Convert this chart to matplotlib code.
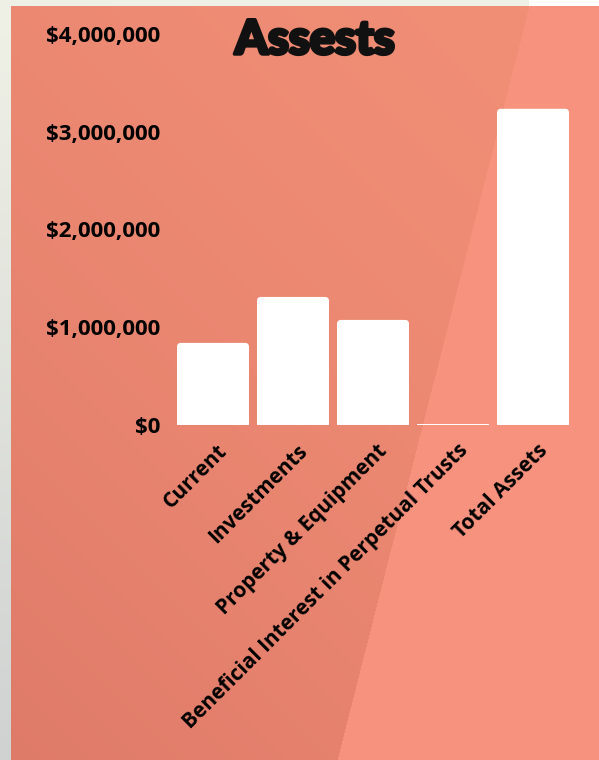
import numpy as np
import matplotlib as mpl
import matplotlib.pyplot as plt
import matplotlib.patheffects as pe
from matplotlib.patches import FancyBboxPatch
from matplotlib.ticker import FuncFormatter
from matplotlib.transforms import ScaledTranslation

# Asset values
categories = ['Current', 'Investments', 'Property & Equipment',
              'Beneficial Interest in Perpetual Trusts', 'Total Assets']
values = [840000, 1310000, 1075000, 10000, 3235000]
yticks = [0, 1000000, 2000000, 3000000, 4000000]

W, H = 599, 760
fig = plt.figure(figsize=(W/100, H/100), dpi=100)

# background picture (page + salmon panel with diagonal split)
yy, xx = np.mgrid[0:H, 0:W].astype(float)
img = np.zeros((H, W, 3))
cream = np.array([240, 241, 230])/255
grey = np.array([208, 210, 210])/255
t = (yy/H)[..., None]
img[:] = cream*(1-t) + grey*t
img[0:6, 529:] = 1.0
dark_a = np.array([241, 142, 118])/255
dark_b = np.array([222, 122, 104])/255
light = np.array([246, 146, 126])/255
s = np.clip(((W - xx) + yy)/(W + H), 0, 1)[..., None]
s = s**1.6
left_col = dark_a*(1-s) + dark_b*s
split = 529 - (yy - 6)*(529-337)/(760-6)
panel = np.where((xx < split)[..., None], left_col, light)
mask = (xx >= 11) & (yy >= 6)
img[mask] = panel[mask]

bg = fig.add_axes([0, 0, 1, 1], zorder=-10)
bg.imshow(img, aspect='auto', extent=[0, W, H, 0])
bg.axis('off')

ax = fig.add_axes([173/W, 1-425/H, 400/W, (425-34)/H])
ax.patch.set_alpha(0)
x = np.arange(len(categories))
bw = 0.9
bars = ax.bar(x, values, width=bw, color='white', alpha=0)
ax.set_xlim(-0.5, 4.5)
ax.set_ylim(0, 4000000)
asp = 4000000/(425-34) / (5/400)
for b in bars:
    x0, w, h = b.get_x(), b.get_width(), b.get_height()
    r = 0.05
    if h > 40000:
        p = FancyBboxPatch((x0, 0), w, h, boxstyle='round,pad=0,rounding_size=%f' % r,
                           mutation_aspect=asp, fc='white', ec='none')
        ax.add_patch(p)
        ax.add_patch(mpl.patches.Rectangle((x0, 0), w, h/2, fc='white', ec='none'))
    else:
        ax.add_patch(mpl.patches.Rectangle((x0, 0), w, max(h, 12000), fc='white', ec='none'))

ax.set_yticks(yticks)
ax.yaxis.set_major_formatter(FuncFormatter(lambda v, p: '${:,.0f}'.format(v)))
ax.set_xticks(x)
ax.set_xticklabels(categories, rotation=45, ha='right', rotation_mode='anchor')
for sp in ax.spines.values():
    sp.set_visible(False)
ax.tick_params(length=0)
ax.tick_params(axis='y', pad=9)
ax.tick_params(axis='x', pad=11)
for lab in ax.get_yticklabels() + ax.get_xticklabels():
    lab.set_fontfamily('Open Sans')
    lab.set_fontweight('bold')
for lab in ax.get_yticklabels():
    lab.set_fontsize(16)
shift = ScaledTranslation(4/100, 0, fig.dpi_scale_trans)
for lab in ax.get_xticklabels():
    lab.set_fontsize(15)
    lab.set_transform(lab.get_transform() + shift)

fig.text(315/W, 1-40/H, 'Assests', ha='center', va='center', fontsize=34,
         fontfamily='Lato', fontweight='black', color='#111',
         path_effects=[pe.withStroke(linewidth=2.5, foreground='#111')])

fig.savefig('out.png', dpi=100)
